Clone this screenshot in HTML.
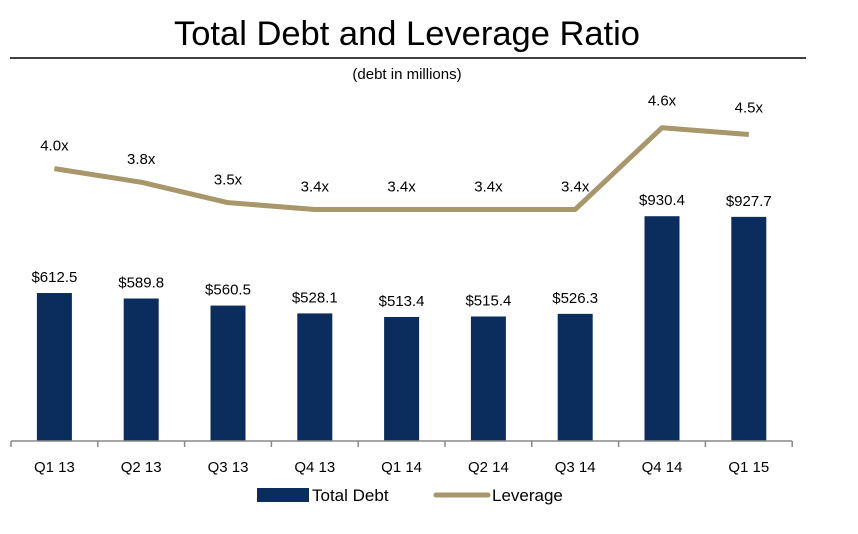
<!DOCTYPE html>
<html><head><meta charset="utf-8"><style>
body{margin:0;background:#fff;font-family:"Liberation Sans",sans-serif;}
svg text{font-family:"Liberation Sans",sans-serif;}
</style></head><body>
<svg width="858" height="529" viewBox="0 0 858 529">
<text x="407" y="45" font-size="34" text-anchor="middle" fill="#000" textLength="466" lengthAdjust="spacingAndGlyphs">Total Debt and Leverage Ratio</text>
<line x1="10" y1="58" x2="806" y2="58" stroke="#000" stroke-width="1.5"/>
<text x="407" y="79" font-size="15" text-anchor="middle" fill="#000">(debt in millions)</text>
<g id="bars"></g><g id="axis"></g><g id="line"></g>
<g>
<rect x="257" y="488" width="52" height="14" fill="#0b2d5e"/>
<text x="312" y="501" font-size="17" fill="#000">Total Debt</text>
<line x1="436" y1="495" x2="488" y2="495" stroke="#a8976a" stroke-width="5" stroke-linecap="round"/>
<text x="492" y="501" font-size="17" fill="#000">Leverage</text>
</g>
</svg>
<script>
const categories=["Q1 13","Q2 13","Q3 13","Q4 13","Q1 14","Q2 14","Q3 14","Q4 14","Q1 15"];
const debt=[612.5,589.8,560.5,528.1,513.4,515.4,526.3,930.4,927.7];
const debtLabels=["$612.5","$589.8","$560.5","$528.1","$513.4","$515.4","$526.3","$930.4","$927.7"];
const leverage=[4.0,3.8,3.5,3.4,3.4,3.4,3.4,4.6,4.5];
const levLabels=["4.0x","3.8x","3.5x","3.4x","3.4x","3.4x","3.4x","4.6x","4.5x"];
const NS="http://www.w3.org/2000/svg";
const x0=11,step=86.8,base=441;
const xC=i=>x0+step*(i+0.5);
const yD=v=>base-v*0.2416;
const yL=v=>base-v*68.1;
function mk(t,a,p){const e=document.createElementNS(NS,t);for(const k in a)e.setAttribute(k,a[k]);p.appendChild(e);return e;}
const gb=document.getElementById('bars'),ga=document.getElementById('axis'),gl=document.getElementById('line');
categories.forEach((c,i)=>{
 const r=mk('rect',{x:xC(i)-17.5,y:yD(debt[i]),width:35,height:base-yD(debt[i]),fill:'#0b2d5e'},gb);
 
 
 const t=mk('text',{x:xC(i),y:yD(debt[i])-11,'font-size':15,'text-anchor':'middle',fill:'#000'},gb);t.textContent=debtLabels[i];
 
 
 const xl=mk('text',{x:xC(i),y:472,'font-size':15,'text-anchor':'middle',fill:'#000'},ga);xl.textContent=c;
 
 
 const lt=mk('text',{x:xC(i),y:yL(leverage[i])-(i==7||i==8?22:18),'font-size':15,'text-anchor':'middle',fill:'#000'},gl);lt.textContent=levLabels[i];
 
 
});
const ax=mk('line',{x1:x0,y1:base,x2:x0+step*9,y2:base,stroke:'#888','stroke-width':1.5},ga);


for(let i=0;i<=9;i++){const tk=mk('line',{x1:x0+step*i,y1:base,x2:x0+step*i,y2:base+6,stroke:'#888','stroke-width':1.5},ga);
 
 }
const pl=mk('polyline',{points:leverage.map((v,i)=>xC(i)+','+yL(v)).join(' '),fill:'none',stroke:'#a8976a','stroke-width':5,'stroke-linejoin':'round'},gl);


</script>
</body></html>
